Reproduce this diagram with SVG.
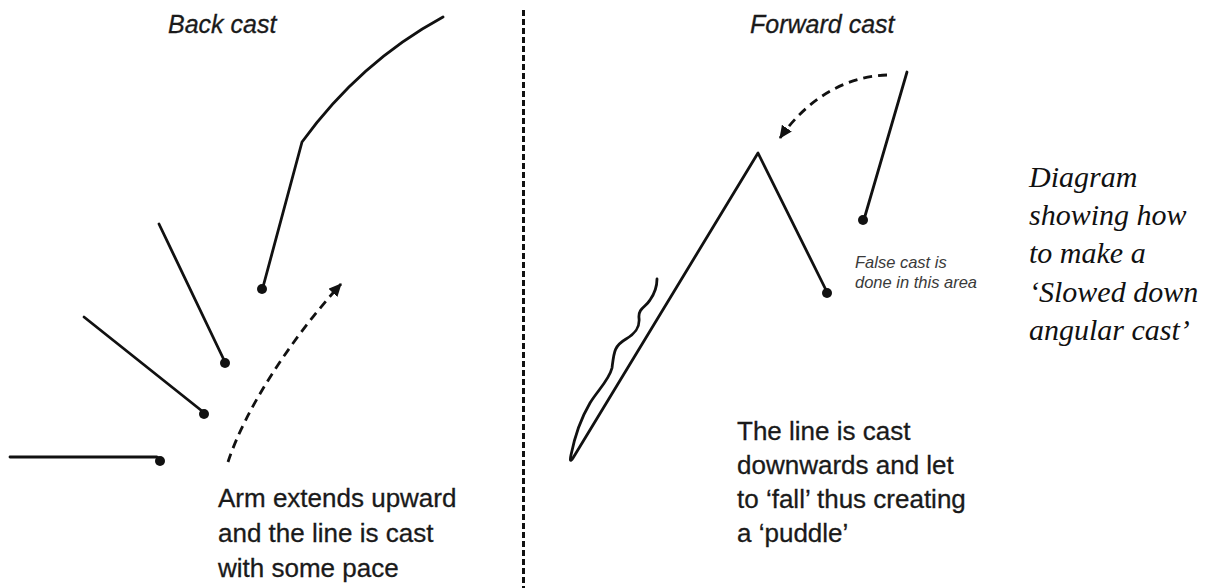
<svg xmlns="http://www.w3.org/2000/svg" width="1215" height="588" viewBox="0 0 1215 588">
  <defs>
    <style>
      .ln { fill: none; stroke: #111; stroke-width: 2.8; stroke-linecap: round; stroke-linejoin: round; }
      .dash { fill: none; stroke: #111; stroke-width: 2.8; stroke-dasharray: 9 6; }
      .dot { fill: #111; }
      .title { font-family: "Liberation Sans", Arial, sans-serif; font-style: italic; font-size: 25px; fill: #1a1a1a; stroke: #1a1a1a; stroke-width: 0.3; }
      .body { font-family: "Liberation Sans", Arial, sans-serif; font-size: 26px; fill: #1a1a1a; stroke: #1a1a1a; stroke-width: 0.3; }
      .small { font-family: "Liberation Sans", Arial, sans-serif; font-style: italic; font-size: 16.5px; fill: #3a3a3a; }
      .caption { font-family: "Liberation Serif", "Times New Roman", serif; font-style: italic; font-size: 30px; fill: #111; }
    </style>
    <marker id="arrow" markerUnits="userSpaceOnUse" markerWidth="14" markerHeight="12" refX="12" refY="6" orient="auto">
      <path d="M0,0 L13,6 L0,12 Z" fill="#111"/>
    </marker>
  </defs>

  <line id="divider" x1="523.5" y1="10" x2="523.5" y2="588" stroke="#111" stroke-width="3" stroke-dasharray="6 3"/>

  <g id="back-cast">
    <text class="title" x="168" y="33">Back cast</text>
    <g id="rod-top">
      <path class="ln" d="M263,287 L302,142 Q360,62 443,17"/>
      <circle class="dot" cx="262" cy="289" r="5"/>
    </g>
    <g id="rod-2">
      <path class="ln" d="M159,224 L224,360"/>
      <circle class="dot" cx="225" cy="363" r="5"/>
    </g>
    <g id="rod-3">
      <path class="ln" d="M84,317 L202,411"/>
      <circle class="dot" cx="204" cy="414" r="5"/>
    </g>
    <g id="rod-4">
      <path class="ln" d="M10,457 L157,457 L160,460"/>
      <circle class="dot" cx="160" cy="461" r="5"/>
    </g>
    <text class="body" x="218" y="507">Arm extends upward</text>
    <text class="body" x="218" y="542">and the line is cast</text>
    <text class="body" x="218" y="577">with some pace</text>
  </g>

  <g id="forward-cast">
    <text class="title" x="750" y="33">Forward cast</text>
    <g id="rod-right">
      <path class="ln" d="M907,72 L865,216"/>
      <circle class="dot" cx="863" cy="220" r="5"/>
    </g>
    <g id="line-peak">
      <path class="ln" d="M826,290 L758,153 L573,458 Q569,464 571,455 C574,440 580,420 590,403 C598,390 609,380 612,368 C614,352 614,346 626,339 C636,333 640,327 639,318 C638,308 646,307 650,300 C655,293 657,287 657,279"/>
      <circle class="dot" cx="827" cy="293" r="5"/>
    </g>
    <text class="small" x="855" y="268">False cast is</text>
    <text class="small" x="855" y="288">done in this area</text>
    <text class="body" x="737" y="440">The line is cast</text>
    <text class="body" x="737" y="474">downwards and let</text>
    <text class="body" x="737" y="508">to ‘fall’ thus creating</text>
    <text class="body" x="737" y="542">a ‘puddle’</text>
  </g>

  <g id="connectors">
    <path class="dash" d="M228,462 C245,410 290,340 341,284" marker-end="url(#arrow)"/>
    <path class="dash" d="M887,75 C850,76 810,95 780,138" marker-end="url(#arrow)"/>
  </g>

  <g id="caption">
    <text class="caption" x="1029" y="187">Diagram</text>
    <text class="caption" x="1029" y="225">showing how</text>
    <text class="caption" x="1029" y="263">to make a</text>
    <text class="caption" x="1029" y="302">‘Slowed down</text>
    <text class="caption" x="1029" y="340">angular cast’</text>
  </g>
</svg>
